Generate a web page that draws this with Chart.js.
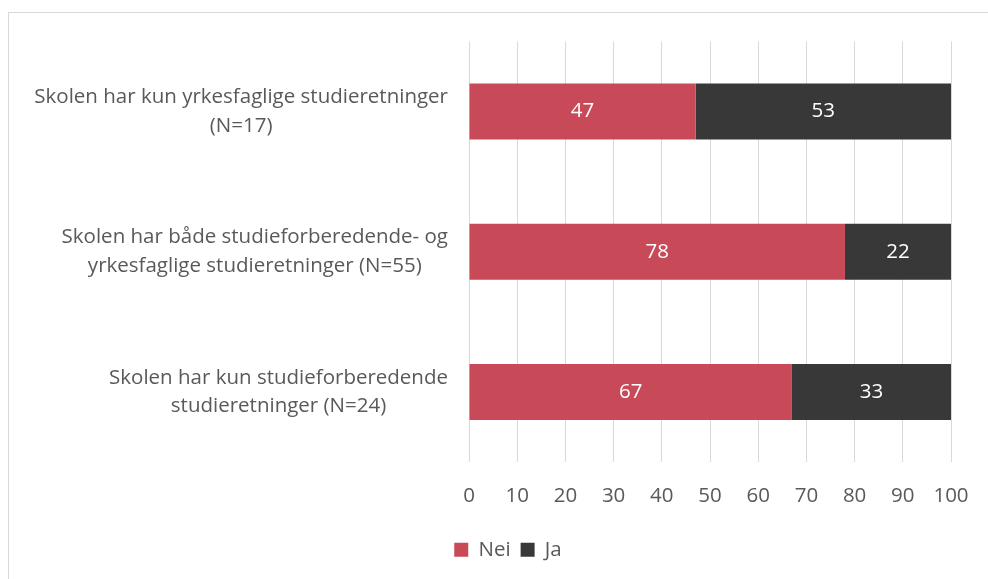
<!DOCTYPE html>
<html>
<head>
<meta charset="utf-8">
<script src="https://cdn.jsdelivr.net/npm/chart.js@4/dist/chart.umd.min.js"></script>
<style>
  html, body { margin: 0; padding: 0; background: #fff; width: 988px; height: 579px; overflow: hidden; }
  #frame { position: absolute; left: 8px; top: 12px; width: 1100px; height: 700px; border: 1px solid #d9d9d9; box-sizing: border-box; }
  #wrap { position: absolute; left: 0; top: 0; width: 988px; height: 579px; }
</style>
</head>
<body>
<div id="frame"></div>
<div id="wrap"><canvas id="c" width="988" height="579"></canvas></div>
<script>
const categories = [
  ["Skolen har kun yrkesfaglige studieretninger", "(N=17)"],
  ["Skolen har både studieforberedende- og", "yrkesfaglige studieretninger (N=55)"],
  ["Skolen har kun studieforberedende", "studieretninger (N=24)"]
];
const seriesNames = ["Nei", "Ja"];
const neiValues = [47, 78, 67];
const jaValues = [53, 22, 33];
const xTicks = [0, 10, 20, 30, 40, 50, 60, 70, 80, 90, 100];

const FONT = "'Open Sans', 'Noto Sans', sans-serif";
const FS = 20.5;
const TEXT = "#595959";

const yLabelPlugin = {
  id: 'yLabels',
  afterDraw(chart) {
    const ctx = chart.ctx;
    const y = chart.scales.y;
    const right = chart.chartArea.left - 21;
    ctx.save();
    ctx.font = FS + "px " + FONT;
    ctx.fillStyle = TEXT;
    ctx.textAlign = 'center';
    ctx.textBaseline = 'middle';
    categories.forEach((lines, i) => {
      const py = y.getPixelForValue(i);
      const widest = Math.max(...lines.map(l => ctx.measureText(l).width));
      const cx = right - widest / 2;
      const lh = 28.5;
      const start = py - (lines.length - 1) * lh / 2;
      lines.forEach((l, j) => ctx.fillText(l, cx, start + j * lh));
    });
    ctx.restore();
  }
};

const valueLabelPlugin = {
  id: 'valueLabels',
  afterDatasetsDraw(chart) {
    const ctx = chart.ctx;
    ctx.save();
    ctx.font = FS + "px " + FONT;
    ctx.fillStyle = "#ffffff";
    ctx.textAlign = 'center';
    ctx.textBaseline = 'middle';
    chart.data.datasets.forEach((ds, di) => {
      chart.getDatasetMeta(di).data.forEach((bar, i) => {
        const cx = (bar.x + bar.base) / 2;
        ctx.fillText(String(ds.data[i]), cx, bar.y);
      });
    });
    ctx.restore();
  }
};

new Chart(document.getElementById('c'), {
  type: 'bar',
  data: {
    labels: categories,
    datasets: [
      { label: seriesNames[0], data: neiValues, backgroundColor: '#C84A59', borderWidth: 0 },
      { label: seriesNames[1], data: jaValues, backgroundColor: '#383838', borderWidth: 0 }
    ]
  },
  options: {
    indexAxis: 'y',
    responsive: false,
    animation: false,
    events: [],
    layout: { padding: { top: 41.5, right: 37, bottom: 9, left: 65 } },
    datasets: { bar: { categoryPercentage: 1, barPercentage: 0.4 } },
    scales: {
      x: {
        stacked: true, min: 0, max: 100,
        afterBuildTicks(scale) { scale.ticks = xTicks.map(v => ({ value: v })); },
        ticks: { color: TEXT, font: { family: FONT, size: FS }, padding: 19, maxRotation: 0 },
        grid: { color: '#d9d9d9', lineWidth: 1, drawTicks: true, tickLength: 3, tickColor: 'rgba(0,0,0,0)' },
        border: { display: false },
        afterFit(scale) { scale.height = 67.5; }
      },
      y: {
        stacked: true,
        grid: { display: false },
        border: { display: false },
        ticks: { display: false },
        afterFit(scale) { scale.width = 404; }
      }
    },
    plugins: {
      legend: {
        position: 'bottom',
        labels: { boxWidth: 14, boxHeight: 14, color: TEXT, font: { family: FONT, size: FS }, padding: 10 }
      },
      tooltip: { enabled: false }
    }
  },
  plugins: [yLabelPlugin, valueLabelPlugin]
});
</script>
</body>
</html>
